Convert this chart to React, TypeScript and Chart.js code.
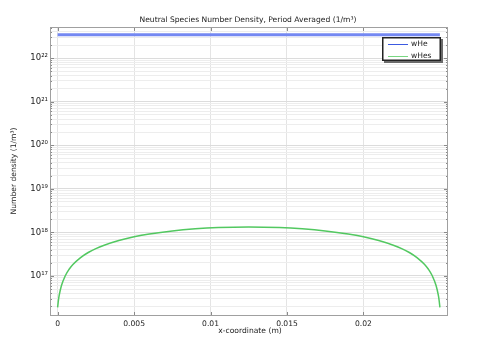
import React, { useEffect, useRef } from "react";
import { Chart, registerables } from "chart.js";

Chart.register(...registerables);

const TITLE = "Neutral Species Number Density, Period Averaged (1/m³)";
const X_LABEL = "x-coordinate (m)";
const Y_LABEL = "Number density (1/m³)";
const SERIES_NAMES = ["wHe", "wHes"];
const SERIES_COLORS = ["rgb(116,136,242)", "rgb(82,200,96)"];
const LEGEND_COLORS = ["rgb(60,90,225)", "rgb(120,215,130)"];

const X_WHE = [0, 0.025];
const Y_WHE = [3.47e22, 3.47e22];

const X_WHES = [
  0, 0.00005, 0.0001, 0.00025, 0.0005, 0.00075, 0.001, 0.0015, 0.002, 0.0025,
  0.003, 0.004, 0.005, 0.006, 0.0075, 0.009, 0.0105, 0.0125, 0.0145, 0.016,
  0.0175, 0.019, 0.02, 0.021, 0.022, 0.0225, 0.023, 0.0235, 0.024, 0.02425,
  0.0245, 0.02475, 0.0249, 0.02495, 0.025,
];
const Y_WHES = [
  1.9e16, 2.72e16, 3.55e16, 6.0e16, 1.01e17, 1.42e17, 1.83e17, 2.64e17, 3.45e17, 4.24e17,
  5.01e17, 6.5e17, 7.89e17, 9.16e17, 1.079e18, 1.204e18, 1.288e18, 1.329e18, 1.288e18, 1.204e18,
  1.079e18, 9.16e17, 7.89e17, 6.5e17, 5.01e17, 4.24e17, 3.45e17, 2.64e17, 1.83e17, 1.42e17,
  1.01e17, 6.0e16, 3.55e16, 2.72e16, 1.9e16,
];

const X_TICKS = [0, 0.005, 0.01, 0.015, 0.02];
const X_TICK_LABELS = ["0", "0.005", "0.01", "0.015", "0.02"];
const Y_DECADES = [16, 17, 18, 19, 20, 21, 22];
const Y_MULTIPLIERS = [1, 2, 3, 4, 5, 6, 7, 8, 9];
const Y_TICK_LABELS: Record<number, string> = {
  17: "10¹⁷",
  18: "10¹⁸",
  19: "10¹⁹",
  20: "10²⁰",
  21: "10²¹",
  22: "10²²",
};

const X_MIN = -0.0005;
const X_MAX = 0.02553;
const Y_MIN = 1.2e16;
const Y_MAX = 5.2e22;

const FONT = "DejaVu Sans";
const FS = 7.6;

const isDecade = (v: number) => {
  const l = Math.log10(v);
  return Math.abs(l - Math.round(l)) < 1e-9;
};

const decorPlugin = {
  id: "decor",
  beforeDraw(chart: any) {
    const { ctx, width, height } = chart;
    ctx.save();
    ctx.fillStyle = "#ffffff";
    ctx.fillRect(0, 0, width, height);
    ctx.restore();
  },
  afterDraw(chart: any) {
    const { ctx, chartArea: a, scales } = chart;
    ctx.save();
    // ticks
    ctx.strokeStyle = "#8a8a8a";
    ctx.lineWidth = 1;
    ctx.beginPath();
    scales.y.ticks.forEach((t: any) => {
      const py = Math.round(scales.y.getPixelForValue(t.value)) + 0.5;
      const len = isDecade(t.value) ? 4 : 2;
      ctx.moveTo(a.left, py);
      ctx.lineTo(a.left + len, py);
      ctx.moveTo(a.right, py);
      ctx.lineTo(a.right - len, py);
    });
    scales.x.ticks.forEach((t: any) => {
      const px = Math.round(scales.x.getPixelForValue(t.value)) + 0.5;
      ctx.moveTo(px, a.bottom);
      ctx.lineTo(px, a.bottom - 4);
      ctx.moveTo(px, a.top);
      ctx.lineTo(px, a.top + 4);
    });
    ctx.stroke();
    // frame
    ctx.strokeStyle = "#a0a0a0";
    ctx.strokeRect(Math.round(a.left) + 0.5, Math.round(a.top) + 0.5, Math.round(a.right - a.left) - 1, Math.round(a.bottom - a.top) - 1);

    // texts
    ctx.fillStyle = "#222";
    ctx.font = `${FS}px "${FONT}"`;
    ctx.textAlign = "center";
    ctx.textBaseline = "middle";
    ctx.fillText(TITLE, 248, 20);
    ctx.fillText(X_LABEL, 250, 331);
    ctx.save();
    ctx.translate(14, 171);
    ctx.rotate(-Math.PI / 2);
    ctx.fillText(Y_LABEL, 0, 0);
    ctx.restore();

    // legend
    const bx = 382, by = 37, bw = 59, bh = 24;
    ctx.fillStyle = "#6a6a6a";
    ctx.fillRect(bx + 2, by + 2, bw, bh);
    ctx.fillStyle = "#ffffff";
    ctx.fillRect(bx, by, bw, bh);
    ctx.strokeStyle = "#222";
    ctx.lineWidth = 1.5;
    ctx.strokeRect(bx + 0.75, by + 0.75, bw - 1.5, bh - 1.5);
    chart.data.datasets.forEach((ds: any, i: number) => {
      const y = by + 7.5 + i * 12;
      ctx.strokeStyle = LEGEND_COLORS[i];
      ctx.lineWidth = 1;
      ctx.beginPath();
      ctx.moveTo(388, y);
      ctx.lineTo(408, y);
      ctx.stroke();
      ctx.fillStyle = "#222";
      ctx.textAlign = "left";
      ctx.fillText(ds.label, 411, y);
    });
    ctx.restore();
  },
};

export default function App() {
  const ref = useRef<HTMLCanvasElement | null>(null);
  useEffect(() => {
    if (!ref.current) return;
    const chart = new Chart(ref.current, {
      type: "line",
      data: {
        datasets: [
          {
            label: SERIES_NAMES[0],
            data: X_WHE.map((x, i) => ({ x, y: Y_WHE[i] })),
            borderColor: SERIES_COLORS[0],
            borderWidth: 3,
            pointRadius: 0,
            fill: false,
          },
          {
            label: SERIES_NAMES[1],
            data: X_WHES.map((x, i) => ({ x, y: Y_WHES[i] })),
            borderColor: SERIES_COLORS[1],
            borderWidth: 1.5,
            pointRadius: 0,
            fill: false,
            cubicInterpolationMode: "monotone",
          },
        ],
      },
      options: {
        animation: false,
        responsive: false,
        devicePixelRatio: 1,
        layout: { padding: { left: 0, right: 35, top: 27, bottom: 0 } },
        plugins: {
          legend: { display: false },
          title: { display: false },
          tooltip: { enabled: false },
        },
        scales: {
          x: {
            type: "linear",
            min: X_MIN,
            max: X_MAX,
            afterBuildTicks: (scale: any) => {
              scale.ticks = X_TICKS.map((v) => ({ value: v }));
            },
            afterFit: (scale: any) => {
              scale.height = 25;
            },
            ticks: {
              autoSkip: false,
              maxRotation: 0,
              padding: 3,
              color: "#222",
              font: { family: FONT, size: FS },
              callback: (v: any) => {
                const i = X_TICKS.findIndex((t) => Math.abs(t - v) < 1e-9);
                return i >= 0 ? X_TICK_LABELS[i] : "";
              },
            },
            grid: { color: "#e4e4e4", drawTicks: false },
            border: { display: false },
          },
          y: {
            type: "logarithmic",
            min: Y_MIN,
            max: Y_MAX,
            afterBuildTicks: (scale: any) => {
              const ticks: any[] = [];
              Y_DECADES.forEach((d) => {
                Y_MULTIPLIERS.forEach((m) => {
                  const v = m * Math.pow(10, d);
                  if (v >= Y_MIN && v <= Y_MAX) ticks.push({ value: v });
                });
              });
              scale.ticks = ticks;
            },
            afterFit: (scale: any) => {
              scale.width = 50;
            },
            ticks: {
              autoSkip: false,
              padding: 2,
              color: "#222",
              font: { family: FONT, size: 8.5 },
              callback: (v: any) => {
                const n = Number(v);
                if (!isDecade(n)) return "";
                return Y_TICK_LABELS[Math.round(Math.log10(n))] || "";
              },
            },
            grid: {
              drawTicks: false,
              color: (c: any) => (c.tick && isDecade(c.tick.value) ? "#dcdcdc" : "#ededed"),
            },
            border: { display: false },
          },
        },
      },
      plugins: [decorPlugin],
    } as any);
    return () => chart.destroy();
  }, []);
  return (
    <div style={{ position: "fixed", left: 0, top: 0, width: 483, height: 341, background: "#fff" }}>
      <canvas ref={ref} width={483} height={341} style={{ width: 483, height: 341 }} />
    </div>
  );
}
